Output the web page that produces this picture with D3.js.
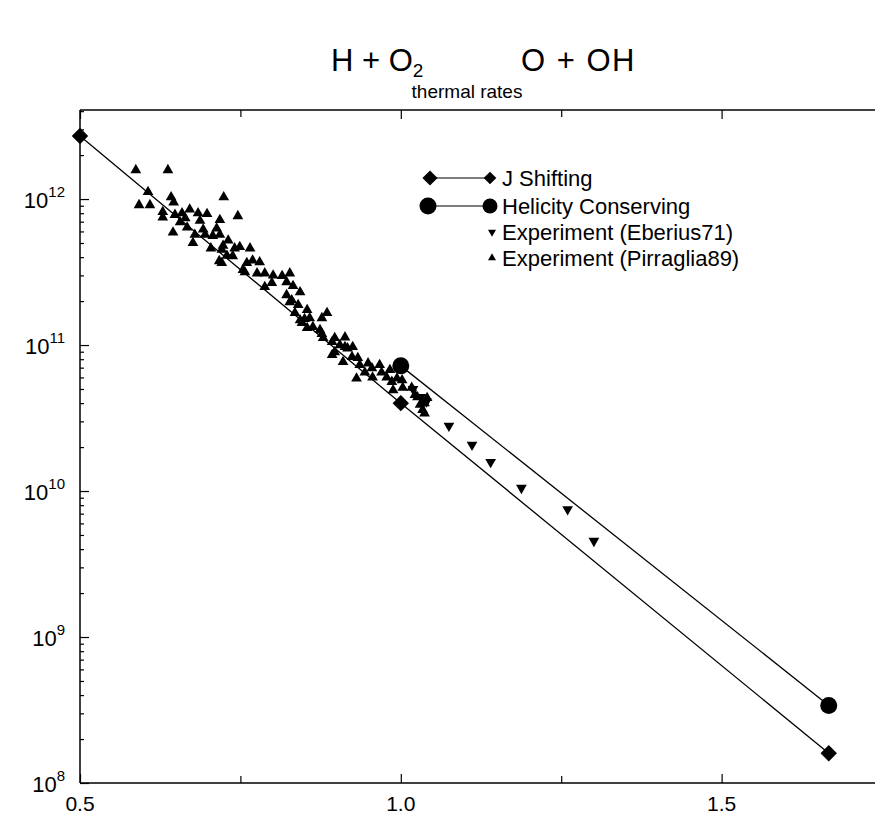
<!DOCTYPE html>
<html>
<head>
<meta charset="utf-8">
<script src="https://cdn.jsdelivr.net/npm/d3@7"></script>
<style>
  body { margin: 0; background: #fff; }
  svg { font-family: "Liberation Sans", Arial, sans-serif; }
</style>
</head>
<body>
<svg id="chart" width="875" height="816"></svg>
<script>
// x = 1000/T, y = rate
const jShifting = [[0.5, 2.7e12], [1.0, 4.0e10], [1.667, 1.6e8]];
const helicity = [[1.0, 7.2e10], [1.667, 3.4e8]];
const eberius71 = [
  [1.019, 5.0e10], [1.031, 4.4e10], [1.040, 4.1e10], [1.075, 2.8e10], [1.111, 2.07e10],
  [1.140, 1.58e10], [1.188, 1.05e10], [1.260, 7.5e9], [1.301, 4.55e9]
];
const pirraglia89 = [
  [0.587, 1.58e12], [0.637, 1.58e12], [0.606, 1.12e12], [0.592, 9.1e11], [0.609, 9.1e11],
  [0.642, 1.03e12], [0.646, 9.5e11], [0.724, 1.03e12], [0.629, 8.15e11], [0.629, 7.5e11],
  [0.648, 7.8e11], [0.659, 8.0e11], [0.671, 8.5e11], [0.684, 8.0e11], [0.698, 7.9e11],
  [0.718, 7.2e11], [0.746, 7.65e11], [0.656, 6.95e11], [0.667, 6.4e11], [0.645, 5.9e11],
  [0.676, 5.0e11], [0.692, 6.2e11], [0.695, 5.7e11], [0.707, 5.6e11], [0.718, 5.7e11],
  [0.704, 4.6e11], [0.721, 4.5e11], [0.717, 3.76e11], [0.729, 4.1e11], [0.723, 4.8e11],
  [0.741, 4.6e11], [0.721, 3.65e11], [0.738, 4.07e11], [0.749, 4.7e11], [0.765, 4.6e11],
  [0.760, 3.65e11], [0.769, 3.8e11], [0.780, 3.7e11], [0.757, 3.16e11], [0.776, 3.1e11],
  [0.788, 3.1e11], [0.801, 3.0e11], [0.815, 2.97e11], [0.827, 3.1e11], [0.788, 2.5e11],
  [0.799, 2.66e11], [0.822, 2.7e11], [0.832, 2.54e11], [0.843, 2.3e11], [0.822, 2.2e11],
  [0.830, 2.03e11], [0.840, 1.88e11], [0.854, 1.74e11], [0.835, 1.66e11], [0.858, 1.53e11],
  [0.846, 1.42e11], [0.863, 1.33e11], [0.874, 1.27e11], [0.885, 1.66e11], [0.877, 1.53e11],
  [0.850, 1.51e11], [0.854, 1.31e11], [0.877, 1.19e11], [0.879, 1.12e11], [0.893, 1.05e11],
  [0.897, 1.12e11], [0.913, 1.13e11], [0.905, 1.0e11], [0.917, 9.5e10], [0.893, 8.55e10],
  [0.910, 7.65e10], [0.924, 8.3e10], [0.933, 8.15e10], [0.936, 7.3e10], [0.949, 7.5e10],
  [0.931, 5.9e10], [0.944, 6.5e10], [0.955, 6.95e10], [0.956, 6.0e10], [0.967, 7.3e10],
  [0.970, 6.5e10], [0.978, 6.0e10], [0.983, 6.75e10], [0.986, 5.6e10], [0.994, 5.9e10],
  [1.003, 5.1e10], [0.988, 4.9e10], [1.002, 5.75e10], [1.017, 5.1e10], [1.022, 4.55e10],
  [1.026, 4.4e10], [1.041, 4.34e10], [1.037, 4.0e10], [1.034, 3.6e10], [1.030, 3.9e10],
  [1.037, 3.4e10], [0.754, 3.27e11], [0.897, 8.95e10], [0.913, 9.7e10], [0.925, 9.7e10],
  [0.731, 5.2e11], [0.713, 6.3e11], [0.687, 7.1e11], [0.664, 7.4e11], [0.679, 5.7e11],
  [0.843, 1.48e11], [0.827, 1.97e11]
];
const xTickLabels = [0.5, 1.0, 1.5];
const xMinorTicks = [0.75, 1.25];
const yDecades = [1e8, 1e9, 1e10, 1e11, 1e12];
const legendItems = ['J Shifting', 'Helicity Conserving', 'Experiment (Eberius71)', 'Experiment (Pirraglia89)'];

const svg = d3.select('#chart');
const margin = { top: 110, left: 80, bottom: 783, right: 882 };

const x = d3.scaleLinear().domain([0.5, 1.75]).range([margin.left, margin.right]);
const y = d3.scaleLog().domain([1e8, Math.pow(10, 12.61)]).range([margin.bottom, margin.top]);

const minorY = [];
yDecades.forEach(d => {
  for (let k = 2; k <= 9; k++) {
    if (d * k <= y.domain()[1]) minorY.push(d * k);
  }
});

// title (the reaction arrow is not drawn in the original)
const title = svg.append('text')
    .attr('x', 331).attr('y', 71)
    .attr('font-size', 31);
title.append('tspan').text('H + O');
title.append('tspan').attr('font-size', 19).attr('dy', 6).text('2');
title.append('tspan').attr('dy', -6).attr('x', 521).attr('letter-spacing', 1.5).text('O + OH');

svg.append('text')
    .attr('x', 467).attr('y', 98)
    .attr('text-anchor', 'middle')
    .attr('font-size', 19)
    .text('thermal rates');

// frame lines
const frame = (x1, y1, x2, y2) => svg.append('line')
    .attr('stroke', 'black').attr('stroke-width', 1.5)
    .attr('x1', x1).attr('y1', y1).attr('x2', x2).attr('y2', y2);
frame(margin.left, margin.bottom, margin.right, margin.bottom);
frame(margin.left, margin.top, margin.right, margin.top);
frame(margin.left, margin.top, margin.left, margin.bottom);

const addAxis = (axis, tr) => {
  const g = svg.append('g').attr('transform', tr).call(axis);
  g.select('.domain').remove();
  g.selectAll('.tick line').attr('stroke-width', 1.2);
  return g;
};
// bottom and top axes, ticks pointing inward
addAxis(d3.axisTop(x).tickValues(xTickLabels).tickSize(9).tickFormat(''), `translate(0,${margin.bottom})`);
addAxis(d3.axisTop(x).tickValues(xMinorTicks).tickSize(7).tickFormat(''), `translate(0,${margin.bottom})`);
addAxis(d3.axisBottom(x).tickValues(xTickLabels).tickSize(9).tickFormat(''), `translate(0,${margin.top})`);
addAxis(d3.axisBottom(x).tickValues(xMinorTicks).tickSize(7).tickFormat(''), `translate(0,${margin.top})`);

svg.append('g').selectAll('text')
  .data(xTickLabels)
  .join('text')
    .attr('x', d => x(d))
    .attr('y', 811)
    .attr('text-anchor', 'middle')
    .attr('font-size', 21)
    .text(d3.format('.1f'));

// left axis, ticks pointing right
addAxis(d3.axisRight(y).tickValues(yDecades).tickSize(9).tickFormat(''), `translate(${margin.left},0)`);
addAxis(d3.axisRight(y).tickValues(minorY).tickSize(4).tickFormat(''), `translate(${margin.left},0)`);

const yl = svg.append('g').selectAll('text')
  .data(yDecades)
  .join('text')
    .attr('x', 65)
    .attr('y', d => y(d) + 9)
    .attr('text-anchor', 'end')
    .attr('font-size', 22);
yl.append('tspan').text('10');
yl.append('tspan').attr('font-size', 15).attr('dy', -11).text(d => Math.round(Math.log10(d)));

// lines
const line = d3.line().x(d => x(d[0])).y(d => y(d[1]));
svg.append('path').datum(jShifting).attr('d', line)
    .attr('fill', 'none').attr('stroke', 'black').attr('stroke-width', 1.3);
svg.append('path').datum(helicity).attr('d', line)
    .attr('fill', 'none').attr('stroke', 'black').attr('stroke-width', 1.3);

const diamond = d3.symbol(d3.symbolSquare, 135)();
const upTri = d3.symbol(d3.symbolTriangle, 50)();

svg.append('g').selectAll('path')
  .data(pirraglia89)
  .join('path')
    .attr('d', upTri)
    .attr('transform', d => `translate(${x(d[0])},${y(d[1])})`);

svg.append('g').selectAll('path')
  .data(eberius71)
  .join('path')
    .attr('d', upTri)
    .attr('transform', d => `translate(${x(d[0])},${y(d[1])}) rotate(180)`);

svg.append('g').selectAll('path')
  .data(jShifting)
  .join('path')
    .attr('d', diamond)
    .attr('transform', d => `translate(${x(d[0])},${y(d[1])}) rotate(45)`);

svg.append('g').selectAll('circle')
  .data(helicity)
  .join('circle')
    .attr('cx', d => x(d[0]))
    .attr('cy', d => y(d[1]))
    .attr('r', 8.5);

// legend
const lg = svg.append('g').attr('font-size', 22);
const rows = [178, 206, 232, 258];
lg.selectAll('text')
  .data(legendItems)
  .join('text')
    .attr('x', 502)
    .attr('y', (d, i) => rows[i] + 8)
    .text(d => d);

lg.append('line').attr('x1', 430).attr('x2', 490).attr('y1', rows[0]).attr('y2', rows[0])
    .attr('stroke', 'black').attr('stroke-width', 1.2);
lg.append('line').attr('x1', 428).attr('x2', 490).attr('y1', rows[1]).attr('y2', rows[1])
    .attr('stroke', 'black').attr('stroke-width', 1.2);
lg.append('path').attr('d', d3.symbol(d3.symbolSquare, 115)()).attr('transform', `translate(430,${rows[0]}) rotate(45)`);
lg.append('path').attr('d', d3.symbol(d3.symbolSquare, 80)()).attr('transform', `translate(490,${rows[0]}) rotate(45)`);
lg.append('circle').attr('cx', 428).attr('cy', rows[1]).attr('r', 8.5);
lg.append('circle').attr('cx', 490).attr('cy', rows[1]).attr('r', 7.5);
lg.append('path').attr('d', d3.symbol(d3.symbolTriangle, 28)()).attr('transform', `translate(492,${rows[2]}) rotate(180)`);
lg.append('path').attr('d', d3.symbol(d3.symbolTriangle, 28)()).attr('transform', `translate(492,${rows[3]})`);
</script>
</body>
</html>
